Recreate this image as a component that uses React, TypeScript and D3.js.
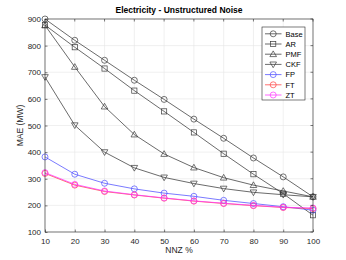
import { useEffect, useRef } from 'react';
import * as d3 from 'd3';

// NNZ % on the x axis
const nnz = [10, 20, 30, 40, 50, 60, 70, 80, 90, 100];

const baseMae = [900, 820, 745, 670, 598, 524, 452, 378, 307, 232];
const arMae = [877, 794, 714, 631, 553, 474, 394, 317, 244, 163];
const pmfMae = [876, 720, 571, 466, 393, 342, 304, 276, 254, 232];
const ckfMae = [682, 501, 400, 341, 305, 282, 263, 249, 240, 232];
const fpMae = [382, 317, 283, 262, 246, 234, 219, 207, 195, 182];
const ftMae = [320, 276, 252, 239, 227, 216, 207, 199, 192, 188];
const ztMae = [323, 279, 254, 240, 228, 217, 208, 200, 193, 190];

const yTicks = [100, 200, 300, 400, 500, 600, 700, 800, 900];

const seriesNames = ['Base', 'AR', 'PMF', 'CKF', 'FP', 'FT', 'ZT'];
const seriesColors = ['#3a3a3a', '#3a3a3a', '#3a3a3a', '#3a3a3a', '#4d4dff', '#ff4040', '#ff33ff'];
const seriesMarkers = ['circle', 'square', 'tri-up', 'tri-down', 'circle', 'circle', 'circle'];
const seriesValues = [baseMae, arMae, pmfMae, ckfMae, fpMae, ftMae, ztMae];

const FONT = "'Liberation Sans', Arial, sans-serif";

function drawMarker(g, kind, x, y, color) {
  const r = 3;
  if (kind === 'circle') {
    g.append('circle').attr('cx', x).attr('cy', y).attr('r', r)
      .attr('fill', 'none').attr('stroke', color).attr('stroke-width', 0.7);
  } else if (kind === 'square') {
    g.append('rect').attr('x', x - 2.6).attr('y', y - 2.6).attr('width', 5.2).attr('height', 5.2)
      .attr('fill', 'none').attr('stroke', color).attr('stroke-width', 0.7);
  } else {
    const s = kind === 'tri-up' ? 1 : -1;
    const pts = [[x, y - 3.3 * s], [x - 3.3, y + 2.4 * s], [x + 3.3, y + 2.4 * s]];
    g.append('polygon').attr('points', pts.map(p => p.join(',')).join(' '))
      .attr('fill', 'none').attr('stroke', color).attr('stroke-width', 0.7);
  }
}

export default function App() {
  const svgRef = useRef(null);

  useEffect(() => {
    const width = 346;
    const height = 260;
    const margin = { top: 19, right: 33, bottom: 28, left: 45 };

    const svg = d3.select(svgRef.current);
    svg.selectAll('*').remove();

    const x = d3.scaleLinear().domain([10, 100]).range([margin.left, width - margin.right]);
    const y = d3.scaleLinear().domain([100, 900]).range([height - margin.bottom, margin.top]);

    svg.append('rect').attr('width', width).attr('height', height).attr('fill', '#fff');

    // grid
    const grid = svg.append('g');
    nnz.forEach(v => {
      grid.append('line').attr('x1', x(v)).attr('x2', x(v))
        .attr('y1', y(100)).attr('y2', y(900))
        .attr('stroke', '#e6e6e6').attr('stroke-width', 0.6);
    });
    yTicks.forEach(v => {
      grid.append('line').attr('x1', x(10)).attr('x2', x(100))
        .attr('y1', y(v)).attr('y2', y(v))
        .attr('stroke', '#e6e6e6').attr('stroke-width', 0.6);
    });

    // series
    const line = d3.line().x((d, i) => x(nnz[i])).y(d => y(d));
    seriesValues.forEach((vals, k) => {
      const g = svg.append('g');
      g.append('path').datum(vals).attr('d', line)
        .attr('fill', 'none').attr('stroke', seriesColors[k]).attr('stroke-width', 0.75);
      vals.forEach((v, i) => drawMarker(g, seriesMarkers[k], x(nnz[i]), y(v), seriesColors[k]));
    });

    // axes box
    svg.append('rect').attr('x', x(10)).attr('y', y(900))
      .attr('width', x(100) - x(10)).attr('height', y(100) - y(900))
      .attr('fill', 'none').attr('stroke', '#262626').attr('stroke-width', 0.6);

    const xAxis = svg.append('g').attr('transform', `translate(0,${y(100)})`)
      .call(d3.axisBottom(x).tickValues(nnz).tickSize(-2.5).tickPadding(6));
    const yAxis = svg.append('g').attr('transform', `translate(${x(10)},0)`)
      .call(d3.axisLeft(y).tickValues(yTicks).tickSize(-2.5).tickPadding(4));
    [xAxis, yAxis].forEach(a => {
      a.select('.domain').remove();
      a.selectAll('line').attr('stroke', '#262626').attr('stroke-width', 0.6);
      a.selectAll('text').attr('fill', '#262626').attr('font-size', 8).attr('font-family', FONT);
    });
    // top / right ticks
    nnz.forEach(v => {
      svg.append('line').attr('x1', x(v)).attr('x2', x(v)).attr('y1', y(900)).attr('y2', y(900) + 2.5)
        .attr('stroke', '#262626').attr('stroke-width', 0.6);
    });
    yTicks.forEach(v => {
      svg.append('line').attr('x1', x(100)).attr('x2', x(100) - 2.5).attr('y1', y(v)).attr('y2', y(v))
        .attr('stroke', '#262626').attr('stroke-width', 0.6);
    });

    // labels
    svg.append('text').attr('x', (x(10) + x(100)) / 2).attr('y', 13)
      .attr('text-anchor', 'middle').attr('font-size', 8.5).attr('font-weight', 'bold')
      .attr('font-family', FONT).attr('fill', '#000')
      .text('Electricity - Unstructured Noise');
    svg.append('text').attr('x', (x(10) + x(100)) / 2).attr('y', 253)
      .attr('text-anchor', 'middle').attr('font-size', 8.5)
      .attr('font-family', FONT).attr('fill', '#262626').text('NNZ %');
    svg.append('text').attr('transform', `translate(23,${(y(100) + y(900)) / 2}) rotate(-90)`)
      .attr('text-anchor', 'middle').attr('font-size', 8.5)
      .attr('font-family', FONT).attr('fill', '#262626').text('MAE (MW)');

    // legend
    const lg = svg.append('g').attr('transform', 'translate(262,27)');
    lg.append('rect').attr('width', 43).attr('height', 73)
      .attr('fill', '#fff').attr('stroke', '#262626').attr('stroke-width', 0.6);
    seriesNames.forEach((name, k) => {
      const yy = 6.8 + k * 10.2;
      lg.append('line').attr('x1', 3).attr('x2', 19.5).attr('y1', yy).attr('y2', yy)
        .attr('stroke', seriesColors[k]).attr('stroke-width', 0.75);
      drawMarker(lg, seriesMarkers[k], 11.2, yy, seriesColors[k]);
      lg.append('text').attr('x', 23.5).attr('y', yy + 2.8)
        .attr('font-size', 7.5).attr('font-family', FONT).attr('fill', '#000').text(name);
    });
  }, []);

  return (
    <svg ref={svgRef} width={346} height={260}
      style={{ position: 'absolute', left: 0, top: 0 }} />
  );
}
